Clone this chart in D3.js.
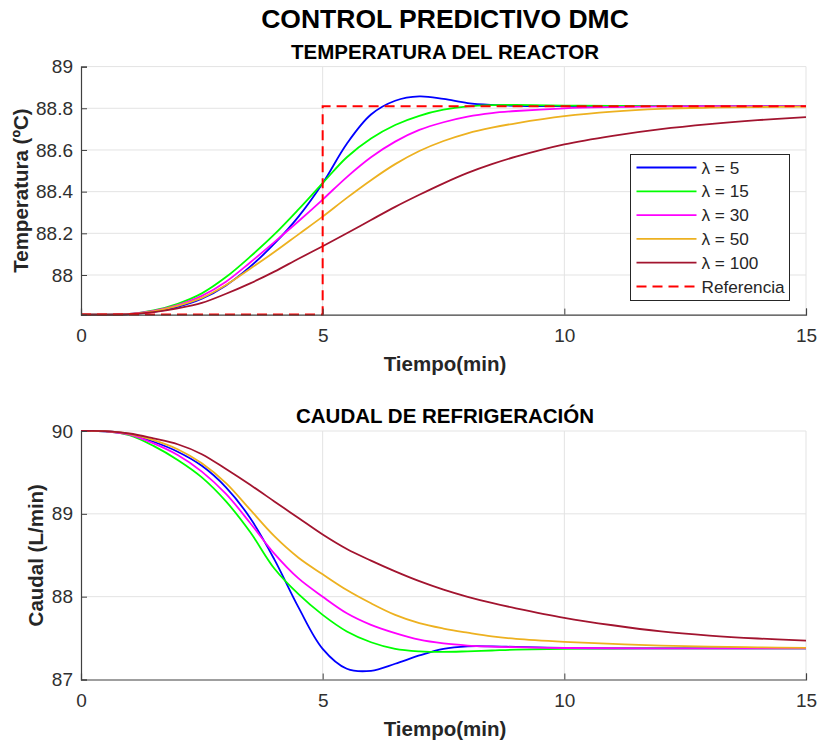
<!DOCTYPE html>
<html>
<head>
<meta charset="utf-8">
<script src="https://cdn.jsdelivr.net/npm/d3@7"></script>
<style>
  html, body { margin: 0; padding: 0; background: #fff; }
  svg { display: block; font-family: "Liberation Sans", Arial, Helvetica, sans-serif; }
</style>
</head>
<body>
<svg id="chart" width="818" height="742"></svg>
<script>
// ---- Simulation results: DMC controller, several move-suppression weights ----
const time = [0, 0.5, 1, 1.5, 2, 2.5, 3, 3.5, 4, 4.5, 5, 5.5, 6, 6.5, 7, 7.5, 8, 8.5, 9, 10, 11, 12, 13, 14, 15];

const lambdas = [5, 15, 30, 50, 100];
const seriesColors = ["#0000ff", "#00ff00", "#ff00ff", "#edb120", "#a2142f"];

// Reactor temperature (ºC)
const tempL5   = [87.81, 87.81, 87.812, 87.823, 87.847, 87.886, 87.95, 88.04, 88.15, 88.28, 88.44, 88.63, 88.77, 88.836, 88.857, 88.845, 88.825, 88.816, 88.812, 88.81, 88.81, 88.81, 88.81, 88.81, 88.81];
const tempL15  = [87.81, 87.81, 87.813, 87.83, 87.862, 87.912, 87.99, 88.088, 88.195, 88.315, 88.441, 88.565, 88.655, 88.72, 88.764, 88.793, 88.809, 88.815, 88.816, 88.813, 88.811, 88.81, 88.81, 88.81, 88.81];
const tempL30  = [87.81, 87.81, 87.813, 87.828, 87.856, 87.9, 87.968, 88.06, 88.158, 88.258, 88.362, 88.47, 88.565, 88.64, 88.696, 88.733, 88.76, 88.777, 88.787, 88.8, 88.806, 88.809, 88.81, 88.81, 88.81];
const tempL50  = [87.81, 87.81, 87.812, 87.826, 87.852, 87.89, 87.952, 88.03, 88.11, 88.195, 88.28, 88.37, 88.455, 88.532, 88.595, 88.643, 88.68, 88.707, 88.728, 88.762, 88.784, 88.797, 88.803, 88.806, 88.808];
const tempL100 = [87.81, 87.81, 87.812, 87.822, 87.84, 87.866, 87.91, 87.96, 88.016, 88.078, 88.138, 88.2, 88.264, 88.327, 88.385, 88.44, 88.49, 88.532, 88.568, 88.627, 88.668, 88.7, 88.724, 88.743, 88.758];

// Set-point (step at t = 5 min)
const refTime = [0, 5, 5, 15];
const refTemp = [87.81, 87.81, 88.81, 88.81];

// Coolant flow (L/min)
const flowL5   = [90, 89.997, 89.96, 89.87, 89.75, 89.58, 89.32, 88.95, 88.45, 87.87, 87.37, 87.13, 87.105, 87.19, 87.29, 87.37, 87.4, 87.4, 87.393, 87.38, 87.376, 87.375, 87.375, 87.375, 87.375];
const flowL15  = [90, 89.996, 89.95, 89.82, 89.65, 89.44, 89.15, 88.78, 88.34, 88.03, 87.78, 87.58, 87.45, 87.37, 87.34, 87.333, 87.34, 87.35, 87.36, 87.37, 87.374, 87.375, 87.375, 87.375, 87.375];
const flowL30  = [90, 89.997, 89.955, 89.85, 89.71, 89.51, 89.24, 88.89, 88.52, 88.22, 88.0, 87.8, 87.66, 87.56, 87.48, 87.435, 87.41, 87.398, 87.39, 87.38, 87.377, 87.375, 87.375, 87.375, 87.375];
const flowL50  = [90, 89.998, 89.965, 89.89, 89.78, 89.61, 89.37, 89.05, 88.73, 88.47, 88.27, 88.08, 87.92, 87.78, 87.68, 87.615, 87.565, 87.52, 87.49, 87.455, 87.43, 87.41, 87.397, 87.388, 87.383];
const flowL100 = [90, 89.998, 89.97, 89.91, 89.84, 89.72, 89.54, 89.35, 89.15, 88.95, 88.75, 88.575, 88.435, 88.305, 88.187, 88.085, 87.998, 87.924, 87.86, 87.745, 87.655, 87.58, 87.53, 87.495, 87.47];

// Axis ticks
const timeTicks = [0, 5, 10, 15];
const tempTicks = [88, 88.2, 88.4, 88.6, 88.8, 89];
const flowTicks = [87, 88, 89, 90];

const tempSeries = [tempL5, tempL15, tempL30, tempL50, tempL100];
const flowSeries = [flowL5, flowL15, flowL30, flowL50, flowL100];

// ---- Drawing ----
const svg = d3.select("#chart");
const axisColor = "#404040";
const gridColor = "#e3e3e3";

svg.append("text")
  .attr("x", 445).attr("y", 28)
  .attr("text-anchor", "middle")
  .attr("font-size", 26.5).attr("font-weight", "bold")
  .attr("fill", "#000")
  .text("CONTROL PREDICTIVO DMC");

function panel(opts) {
  const x = d3.scaleLinear().domain([0, 15]).range([81, 806]);
  const y = d3.scaleLinear().domain(opts.yDomain).range([opts.bottom, opts.top]);
  const g = svg.append("g");

  // grid
  g.append("g").selectAll("line").data(timeTicks.filter(d => d > 0)).join("line")
    .attr("x1", d => x(d)).attr("x2", d => x(d))
    .attr("y1", opts.top).attr("y2", opts.bottom)
    .attr("stroke", gridColor).attr("stroke-width", 1);
  g.append("g").selectAll("line").data(opts.yTicks.filter(d => d > opts.yDomain[0])).join("line")
    .attr("x1", x(0)).attr("x2", x(15))
    .attr("y1", d => y(d)).attr("y2", d => y(d))
    .attr("stroke", gridColor).attr("stroke-width", 1);

  // panel title
  g.append("text")
    .attr("x", 445).attr("y", opts.top - 8)
    .attr("text-anchor", "middle")
    .attr("font-size", 20.5).attr("font-weight", "bold")
    .attr("fill", "#000")
    .text(opts.title);

  // clip
  const clipId = "clip-" + opts.key;
  svg.append("clipPath").attr("id", clipId).append("rect")
    .attr("x", x(0)).attr("y", opts.top - 3)
    .attr("width", x(15) - x(0) + 2).attr("height", opts.bottom - opts.top + 5);

  const line = d3.line()
    .x(d => x(d[0])).y(d => y(d[1]))
    .curve(d3.curveCatmullRom.alpha(0.5));

  const plot = g.append("g").attr("clip-path", `url(#${clipId})`);
  opts.series.forEach((vals, i) => {
    plot.append("path")
      .datum(time.map((t, k) => [t, vals[k]]))
      .attr("d", line)
      .attr("fill", "none")
      .attr("stroke", seriesColors[i])
      .attr("stroke-width", 1.8);
  });

  if (opts.reference) {
    plot.append("path")
      .datum(refTime.map((t, k) => [t, refTemp[k]]))
      .attr("d", d3.line().x(d => x(d[0])).y(d => y(d[1])))
      .attr("fill", "none")
      .attr("stroke", "#ff0000")
      .attr("stroke-width", 2)
      .attr("stroke-dasharray", "10,6");
  }

  // axes (box off, ticks pointing inward)
  const ax = g.append("g").attr("transform", `translate(0,${opts.bottom})`)
    .call(d3.axisBottom(x).tickValues(timeTicks).tickSize(-6).tickPadding(14).tickFormat(d3.format("d")));
  const ay = g.append("g").attr("transform", `translate(${x(0)},0)`)
    .call(d3.axisLeft(y).tickValues(opts.yTicks).tickSize(-6).tickPadding(8).tickFormat(d => String(d)));
  [ax, ay].forEach(a => {
    a.select(".domain").attr("stroke", axisColor).attr("stroke-width", 1.2);
    a.selectAll(".tick line").attr("stroke", axisColor);
    a.selectAll(".tick text").attr("fill", "#303030").attr("font-size", 19)
      .attr("font-family", "Liberation Sans, Arial, sans-serif");
  });

  // axis labels
  g.append("text")
    .attr("x", 445).attr("y", opts.bottom + 56)
    .attr("text-anchor", "middle")
    .attr("font-size", 20.5).attr("font-weight", "bold")
    .attr("fill", "#262626")
    .text("Tiempo(min)");
  g.append("text")
    .attr("transform", `translate(${opts.yLabelX},${(opts.top + opts.bottom) / 2}) rotate(-90)`)
    .attr("text-anchor", "middle")
    .attr("font-size", 20.5).attr("font-weight", "bold")
    .attr("fill", "#262626")
    .text(opts.yLabel);

  return { x, y, g };
}

panel({
  key: "temp", title: "TEMPERATURA DEL REACTOR",
  top: 66.6, bottom: 314.6, yDomain: [87.81, 89], yTicks: tempTicks,
  series: tempSeries, reference: true,
  yLabel: "Temperatura (ºC)", yLabelX: 28
});

panel({
  key: "flow", title: "CAUDAL DE REFRIGERACIÓN",
  top: 431, bottom: 679.5, yDomain: [87, 90], yTicks: flowTicks,
  series: flowSeries, reference: false,
  yLabel: "Caudal (L/min)", yLabelX: 43
});

// legend
const leg = svg.append("g");
leg.append("rect")
  .attr("x", 630.5).attr("y", 154.5).attr("width", 159).attr("height", 146)
  .attr("fill", "#fff").attr("stroke", "#262626").attr("stroke-width", 1);
const legendItems = lambdas.map((l, i) => ({ label: "λ = " + l, color: seriesColors[i], dash: null }))
  .concat([{ label: "Referencia", color: "#ff0000", dash: "10,6" }]);
legendItems.forEach((d, i) => {
  const yy = 167.5 + i * 23.8;
  leg.append("line")
    .attr("x1", 636.5).attr("x2", 696.5).attr("y1", yy).attr("y2", yy)
    .attr("stroke", d.color).attr("stroke-width", d.dash ? 2 : 1.8)
    .attr("stroke-dasharray", d.dash);
  leg.append("text")
    .attr("x", 701.5).attr("y", yy + 6)
    .attr("font-size", 17.2).attr("fill", "#262626")
    .text(d.label);
});
</script>
</body>
</html>
